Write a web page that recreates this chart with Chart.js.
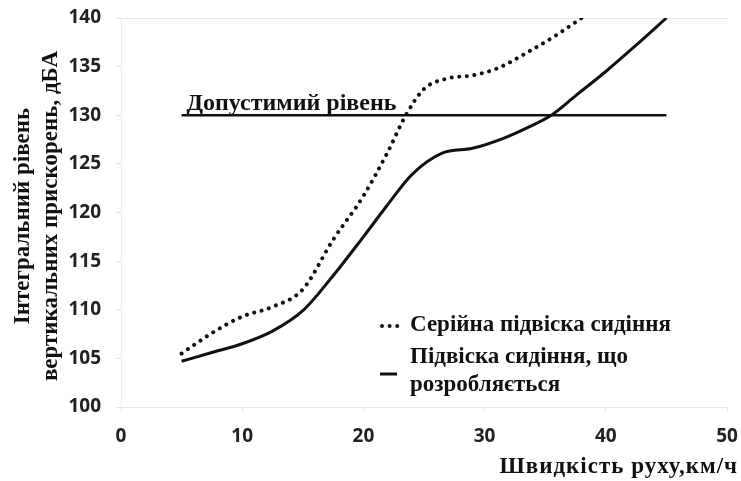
<!DOCTYPE html>
<html>
<head>
<meta charset="utf-8">
<script src="https://cdn.jsdelivr.net/npm/chart.js@4.4.1/dist/chart.umd.min.js"></script>
<style>
  html, body { margin: 0; padding: 0; background: #fff; }
  #wrap { width: 741px; height: 481px; position: relative; }
</style>
</head>
<body>
<div id="wrap"><canvas id="vibroChart"></canvas></div>
<script>
// Серійна підвіска (пунктир)
const serialX = [5, 7.5, 10, 12.5, 15, 17.5, 20, 22, 23.5, 25, 27, 29, 31, 34, 36, 38];
const serialY = [105.5, 107.6, 109.3, 110.3, 112.1, 117.2, 121.7, 126.2, 130.0, 132.7, 133.8, 134.1, 134.8, 136.8, 138.3, 140];

// Підвіска, що розробляється (суцільна)
const newX = [5, 7.5, 10, 12.5, 15, 17.5, 20, 22, 24, 26.5, 29, 31.5, 33.5, 35.5, 37.5, 40, 42.5, 45];
const newY = [104.7, 105.6, 106.5, 107.8, 109.9, 113.5, 117.5, 120.8, 123.9, 126.1, 126.6, 127.6, 128.7, 130.0, 132.0, 134.5, 137.2, 140];

// Допустимий рівень
const levelX = [5, 45];
const levelY = [130, 130];

const xTicks = [0, 10, 20, 30, 40, 50];
const yTicks = [100, 105, 110, 115, 120, 125, 130, 135, 140];

const levelLabel = 'Допустимий рівень';
const legendSerial = 'Серійна підвіска сидіння';
const legendNew = ['Підвіска сидіння, що', 'розробляється'];
const xTitle = 'Швидкість руху,км/ч';
const yTitle = ['Інтегральний рівень', 'вертикальних прискорень, дБА'];

const toPoints = (xs, ys) => xs.map((x, i) => ({ x: x, y: ys[i] }));

const serif = '"Liberation Serif", "Times New Roman", serif';
const tickFont = { family: '"Open Sans", sans-serif', size: 19, weight: 'bold' };
const dotDash = [0.01, 7.6];

// підписи, легенда та назви осей
const textPlugin = {
  id: 'chartTexts',
  afterDraw(chart) {
    const ctx = chart.ctx;
    const xs = chart.scales.x, ys = chart.scales.y;
    ctx.save();
    ctx.fillStyle = '#111';
    ctx.textBaseline = 'alphabetic';

    ctx.font = 'bold 24px ' + serif;
    ctx.fillText(levelLabel, xs.getPixelForValue(5.4), ys.getPixelForValue(130) - 5);

    // легенда
    ctx.strokeStyle = '#111';
    ctx.lineCap = 'round';
    ctx.lineWidth = 4;
    ctx.setLineDash(dotDash);
    ctx.beginPath();
    ctx.moveTo(382, 326);
    ctx.lineTo(399, 326);
    ctx.stroke();
    ctx.setLineDash([]);
    ctx.lineCap = 'butt';
    ctx.lineWidth = 3;
    ctx.beginPath();
    ctx.moveTo(380, 374);
    ctx.lineTo(397, 374);
    ctx.stroke();

    ctx.font = 'bold 23px ' + serif;
    ctx.textBaseline = 'middle';
    ctx.fillText(legendSerial, 410, 325);
    ctx.fillText(legendNew[0], 410, 357);
    ctx.fillText(legendNew[1], 410, 385);

    // назва осі X
    ctx.textAlign = 'right';
    ctx.letterSpacing = '1px';
    ctx.fillText(xTitle, 738, 467);
    ctx.letterSpacing = '0px';

    // назва осі Y
    ctx.textAlign = 'center';
    ctx.translate(0, 216);
    ctx.rotate(-Math.PI / 2);
    ctx.fillText(yTitle[0], 0, 23);
    ctx.fillText(yTitle[1], 0, 51);
    ctx.restore();
  }
};

// мітки можуть виходити за межі області графіка
const noOverflow = (scale) => {
  scale.paddingTop = 0;
  scale.paddingBottom = 0;
  scale.paddingLeft = 0;
  scale.paddingRight = 0;
};

const ctx = document.getElementById('vibroChart').getContext('2d');

new Chart(ctx, {
  type: 'line',
  data: {
    datasets: [
      {
        label: legendSerial,
        data: toPoints(serialX, serialY),
        borderColor: '#111',
        borderWidth: 4,
        borderDash: dotDash,
        borderCapStyle: 'round',
        pointRadius: 0,
        cubicInterpolationMode: 'monotone'
      },
      {
        label: legendNew.join(' '),
        data: toPoints(newX, newY),
        borderColor: '#111',
        borderWidth: 3,
        pointRadius: 0,
        cubicInterpolationMode: 'monotone'
      },
      {
        label: levelLabel,
        data: toPoints(levelX, levelY),
        borderColor: '#111',
        borderWidth: 2.5,
        pointRadius: 0
      }
    ]
  },
  options: {
    responsive: true,
    maintainAspectRatio: false,
    animation: false,
    layout: { padding: { top: 18, right: 14, left: 0, bottom: 0 } },
    plugins: {
      legend: { display: false },
      tooltip: { enabled: false }
    },
    scales: {
      x: {
        type: 'linear',
        min: 0,
        max: 50,
        afterBuildTicks: (scale) => { scale.ticks = xTicks.map(v => ({ value: v })) },
        afterFit: (scale) => { scale.height = 74; noOverflow(scale) },
        ticks: { color: '#222', padding: 14, font: tickFont },
        grid: { drawOnChartArea: false, tickLength: 4, tickColor: '#e0e0e0' },
        border: { color: '#e6e6e6' }
      },
      y: {
        min: 100,
        max: 140,
        afterBuildTicks: (scale) => { scale.ticks = yTicks.map(v => ({ value: v })) },
        afterFit: (scale) => { scale.width = 121; noOverflow(scale) },
        ticks: { color: '#222', padding: 16, font: tickFont },
        grid: {
          color: (c) => c.tick && c.tick.value === 140 ? '#e6e6e6' : 'rgba(0,0,0,0)',
          tickLength: 4,
          tickColor: '#e0e0e0'
        },
        border: { color: '#eeeeee' }
      }
    }
  },
  plugins: [textPlugin]
});
</script>
</body>
</html>
